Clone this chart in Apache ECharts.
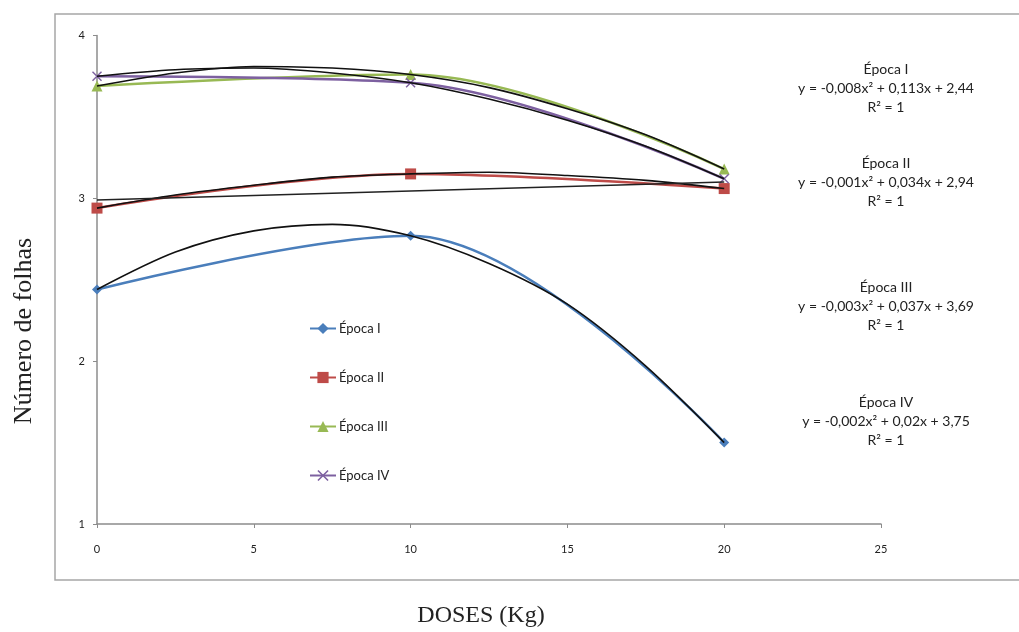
<!DOCTYPE html>
<html>
<head>
<meta charset="utf-8">
<script src="https://cdn.jsdelivr.net/npm/echarts@6/dist/echarts.min.js"></script>
<style>
  html, body { margin: 0; padding: 0; background: #fff; }
  #chart { width: 1019px; height: 632px; }
</style>
</head>
<body>
<div id="chart"></div>
<script>
// doses (kg) medidas
var doses = [0, 10, 20];
// número de folhas por época
var epocaI = [2.44, 2.77, 1.50];
var epocaII = [2.94, 3.15, 3.06];
var epocaIII = [3.69, 3.76, 3.18];
var epocaIV = [3.75, 3.71, 3.12];

// linhas de tendência
var trendX = [0, 2.5, 5, 7.5, 10, 12.5, 15, 17.5, 20];
var trendI = [2.44, 2.67, 2.80, 2.84, 2.77, 2.60, 2.35, 1.97, 1.50];
var trendII = [2.94, 3.02, 3.08, 3.13, 3.15, 3.16, 3.14, 3.11, 3.06];
var trendIII = [3.69, 3.77, 3.81, 3.80, 3.76, 3.68, 3.55, 3.39, 3.18];
var trendIV = [3.75, 3.79, 3.80, 3.77, 3.71, 3.61, 3.48, 3.32, 3.12];
var retaX = [0, 20];
var retaII = [2.99, 3.10];

var nomes = ['Época I', 'Época II', 'Época III', 'Época IV'];
var equacoes = [
  'y = -0,008x² + 0,113x + 2,44',
  'y = -0,001x² + 0,034x + 2,94',
  'y = -0,003x² + 0,037x + 3,69',
  'y = -0,002x² + 0,02x + 3,75'
];
var xTicks = [0, 5, 10, 15, 20, 25];

var cores = ['#4a7ebb', '#be4b48', '#98b954', '#7d60a0'];
var simbolos = [
  'diamond',
  'rect',
  'triangle',
  'path://M0,1L1,0L5,4L9,0L10,1L6,5L10,9L9,10L5,6L1,10L0,9L4,5Z'
];
var tamanhos = [10, 11, 11, 10];

function pares(xs, ys) {
  return xs.map(function (x, i) { return [x, ys[i]]; });
}

var dados = [epocaI, epocaII, epocaIII, epocaIV];
var tendencias = [trendI, trendII, trendIII, trendIV];

var series = [];
dados.forEach(function (d, i) {
  series.push({
    name: nomes[i],
    type: 'line',
    data: pares(doses, d),
    smooth: 0.35,
    symbol: simbolos[i],
    symbolSize: tamanhos[i],
    lineStyle: { color: cores[i], width: 2.5 },
    itemStyle: { color: cores[i] },
    z: 2
  });
});
tendencias.forEach(function (t) {
  series.push({
    type: 'line',
    data: pares(trendX, t),
    smooth: 0.3,
    symbol: 'none',
    lineStyle: { color: '#111', width: 1.6 },
    z: 3,
    silent: true
  });
});
series.push({
  type: 'line',
  data: pares(retaX, retaII),
  symbol: 'none',
  lineStyle: { color: '#222', width: 1.6 },
  z: 3,
  silent: true
});

// moldura, títulos e equações
var eqTops = [69, 163, 287, 402];
var graficos = [{
  type: 'rect',
  shape: { x: 55, y: 14, width: 1000, height: 566 },
  style: { fill: 'none', stroke: '#a6a6a6', lineWidth: 1.5 },
  silent: true
}, {
  type: 'text',
  x: 24,
  y: 331,
  rotation: Math.PI / 2,
  style: {
    text: 'Número de folhas',
    fill: '#222',
    font: '26px "Liberation Serif"',
    textAlign: 'center',
    textVerticalAlign: 'middle'
  }
}, {
  type: 'text',
  x: 481,
  y: 616,
  style: {
    text: 'DOSES (Kg)',
    fill: '#222',
    font: '24px "Liberation Serif"',
    textAlign: 'center',
    textVerticalAlign: 'middle'
  }
}];
eqTops.forEach(function (top, i) {
  var linhas = [nomes[i], equacoes[i], 'R² = 1'];
  var offs = [0, 19, 38];
  linhas.forEach(function (txt, k) {
    graficos.push({
      type: 'text',
      x: 886,
      y: top + offs[k],
      style: {
        text: txt,
        fill: '#222',
        font: '14px Lato',
        textAlign: 'center',
        textVerticalAlign: 'middle'
      }
    });
  });
});

var myChart = echarts.init(document.getElementById('chart'));
myChart.setOption({
  animation: false,
  backgroundColor: '#fff',
  grid: { left: 97, right: 138, top: 35.5, bottom: 108, outerBoundsMode: 'none', containLabel: false },
  legend: {
    data: nomes,
    orient: 'vertical',
    left: 304,
    top: 317,
    itemGap: 36,
    itemWidth: 26,
    itemHeight: 14,
    textStyle: { fontFamily: 'Lato', fontSize: 13, color: '#222', padding: [0, 0, 0, -2] }
  },
  xAxis: {
    type: 'value',
    min: 0,
    max: 25,
    interval: 5,
    splitLine: { show: false },
    axisLine: { lineStyle: { color: '#8c8c8c', width: 1.5 } },
    axisTick: { length: 4, lineStyle: { color: '#8c8c8c' } },
    axisLabel: {
      margin: 20,
      fontFamily: 'Lato',
      fontSize: 11,
      color: '#222',
      customValues: xTicks
    }
  },
  yAxis: {
    type: 'value',
    min: 1,
    max: 4,
    interval: 1,
    splitLine: { show: false },
    axisLine: { show: true, lineStyle: { color: '#8c8c8c', width: 1.5 } },
    axisTick: { show: true, length: 4, lineStyle: { color: '#8c8c8c' } },
    axisLabel: {
      margin: 12,
      fontFamily: 'Lato',
      fontSize: 11,
      color: '#222'
    }
  },
  graphic: graficos,
  series: series
});
</script>
</body>
</html>
